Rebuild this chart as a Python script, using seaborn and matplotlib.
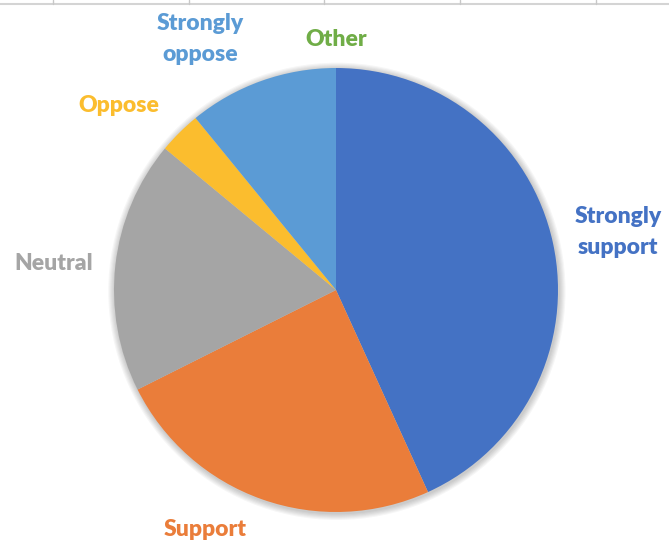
import matplotlib.pyplot as plt
from matplotlib.lines import Line2D
from matplotlib.patches import Circle
import seaborn as sns

# slice data (clockwise from 12 o'clock)
categories = ["Strongly\nsupport", "Support", "Neutral", "Oppose", "Strongly\noppose", "Other"]
shares = [43.2, 24.4, 18.4, 3.1, 10.9, 0.0]
colors = ["#4472C4", "#EA7D3A", "#A5A5A5", "#FBBD2E", "#5B9BD5", "#70AD47"]

# where each label sits, in pie-radius units
label_xy = [(1.27, 0.26), (-0.59, -1.08), (-1.27, 0.12), (-0.98, 0.83), (-0.61, 1.13), (0.0, 1.13)]

sns.set_theme(style="white")
plt.rcParams["font.family"] = ["Lato", "DejaVu Sans"]

W, H = 669, 547
cx, cy, r = 336, 290, 222  # pie centre and radius in pixels

fig = plt.figure(figsize=(W / 100, H / 100), dpi=100)
ax = fig.add_axes([0, 0, 1, 1])

# soft shadow round the pie
for k in range(6):
    ax.add_patch(Circle((0.004, -0.006), 1.0 + 0.005 * (k + 1), color="black",
                        alpha=0.035, lw=0, zorder=0))

pal = sns.color_palette(colors)
ax.pie(shares, colors=pal, startangle=90, counterclock=False,
       wedgeprops=dict(linewidth=0, zorder=1))

for name, (x, y), c in zip(categories, label_xy, pal):
    ax.text(x, y, name, color=c, fontsize=16.5, fontweight="heavy",
            ha="center", va="center", linespacing=1.6)

ax.set_xlim(-cx / r, (W - cx) / r)
ax.set_ylim(-(H - cy) / r, cy / r)
ax.set_aspect("auto")
ax.axis("off")

# spreadsheet cell borders peeking in at the top
fig.add_artist(Line2D([0, 1], [1 - 4 / H, 1 - 4 / H], color="#d4d4d4", lw=1.5))
for px in [53, 189, 324, 460, 596]:
    fig.add_artist(Line2D([px / W, px / W], [1, 1 - 4 / H], color="#c8c8c8", lw=1))

fig.savefig("out.png", dpi=100)
